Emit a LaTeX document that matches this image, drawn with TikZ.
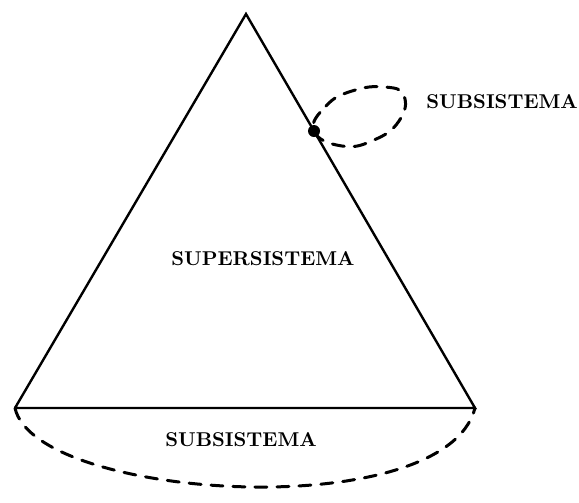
\documentclass[tikz,border=0pt]{standalone}
\usepackage{tikz}
\usetikzlibrary{positioning, calc}

\begin{document}
\begin{tikzpicture}[
    x=0.5pt, y=-0.5pt,
    side/.style={line width=1.2pt},
    sub/.style={line width=1.5pt, dash pattern=on 6pt off 5pt, line cap=round},
    label/.style={font=\bfseries\fontsize{10}{12}\selectfont, inner sep=0pt},
]
\useasboundingbox (0,0) rectangle (579,503);
\coordinate (apex) at (246,14);
\coordinate (bl) at (15,408);
\coordinate (br) at (475,408);
\node[circle, fill, inner sep=0pt, minimum size=6pt] (dot) at ($(apex)!0.297!(br)$) {};

\draw[side] (bl) -- (apex) -- (br) -- (bl);
\node[label] (super) at (263,259) {SUPERSISTEMA};
\node[label] (subbottom) at (241,440) {SUBSISTEMA};
\node[label, anchor=west] (subtop) at (426,102) {SUBSISTEMA};

% subsistemas
\draw[sub] plot[smooth cycle, tension=0.8] coordinates
    {(dot) (326,106) (352,91) (385,87) (404,96) (399,121) (374,140) (342,146)};
\draw[sub] (bl) .. controls (35,500) and (445,526) .. (br);
\end{tikzpicture}
\end{document}
